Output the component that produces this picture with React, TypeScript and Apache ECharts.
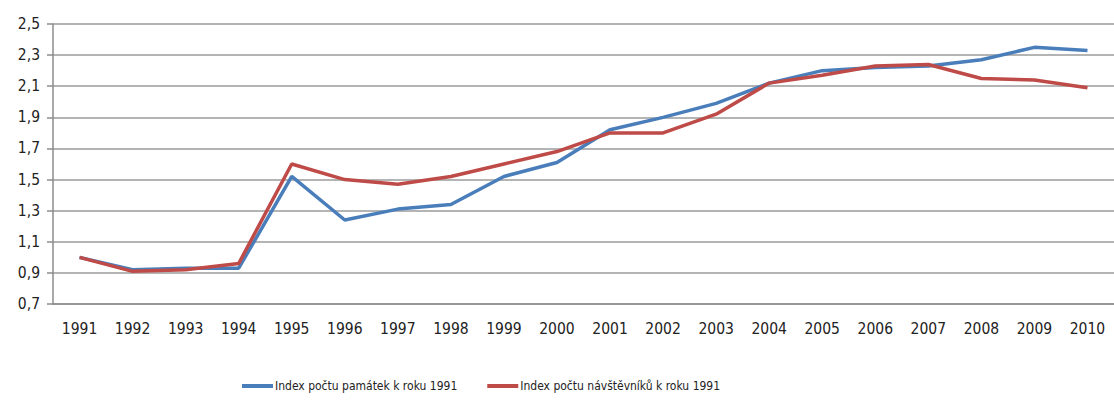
import React, { useEffect, useRef } from "react";
import * as echarts from "echarts";

const years = ["1991","1992","1993","1994","1995","1996","1997","1998","1999","2000","2001","2002","2003","2004","2005","2006","2007","2008","2009","2010"];
const pamatky = [1.0,0.92,0.93,0.93,1.52,1.24,1.31,1.34,1.52,1.61,1.82,1.9,1.99,2.12,2.2,2.22,2.23,2.27,2.35,2.33];
const navstevnici = [1.0,0.91,0.92,0.96,1.6,1.5,1.47,1.52,1.6,1.68,1.8,1.8,1.92,2.12,2.17,2.23,2.24,2.15,2.14,2.09];
const seriesNames = ["Index počtu památek k roku 1991", "Index počtu návštěvníků k roku 1991"];

const FONT = "'Liberation Sans Narrow', 'Arial Narrow', 'DejaVu Sans Condensed', sans-serif";

export default function App() {
  const ref = useRef<HTMLDivElement>(null);
  useEffect(() => {
    if (!ref.current) return;
    const chart = echarts.init(ref.current, null, { renderer: "svg" });
    chart.setOption({
      animation: false,
      textStyle: { fontFamily: FONT },
      grid: { left: 53, right: -10, top: 24, bottom: 96, containLabel: false },
      legend: {
        bottom: 3,
        left: 237,
        itemWidth: 31,
        itemHeight: 4,
        itemGap: 30,
        icon: "rect",
        textStyle: { fontFamily: FONT, fontSize: 12, color: "#222", padding: [0, 0, 0, -3] },
        data: seriesNames,
      },
      xAxis: {
        type: "category",
        data: years,
        boundaryGap: true,
        axisLine: { lineStyle: { color: "#8c8c8c", width: 1.5 } },
        axisTick: { length: 6, lineStyle: { color: "#8c8c8c", width: 1.5 } },
        axisLabel: { fontFamily: FONT, fontSize: 15.5, color: "#222", margin: 17, interval: 0 },
      },
      yAxis: {
        type: "value",
        min: 0.7,
        max: 2.5,
        interval: 0.2,
        axisLine: { show: true, lineStyle: { color: "#8c8c8c", width: 1.5 } },
        axisTick: { show: true, length: 6, lineStyle: { color: "#8c8c8c", width: 1.5 } },
        axisLabel: {
          fontFamily: FONT,
          fontSize: 15.5,
          color: "#222",
          margin: 13,
          formatter: (v: number) => v.toFixed(1).replace(".", ","),
        },
        splitLine: { lineStyle: { color: "#b4b4b4", width: 2 } },
      },
      series: [
        {
          name: seriesNames[0],
          type: "line",
          data: pamatky,
          symbol: "none",
          lineStyle: { color: "#4a7ebb", width: 3.5 },
          itemStyle: { color: "#4a7ebb" },
        },
        {
          name: seriesNames[1],
          type: "line",
          data: navstevnici,
          symbol: "none",
          lineStyle: { color: "#be4b48", width: 3.5 },
          itemStyle: { color: "#be4b48" },
        },
      ],
    });
    return () => chart.dispose();
  }, []);
  return <div ref={ref} style={{ position: "fixed", left: 0, top: 0, width: 1114, height: 400, background: "#fff" }} />;
}
